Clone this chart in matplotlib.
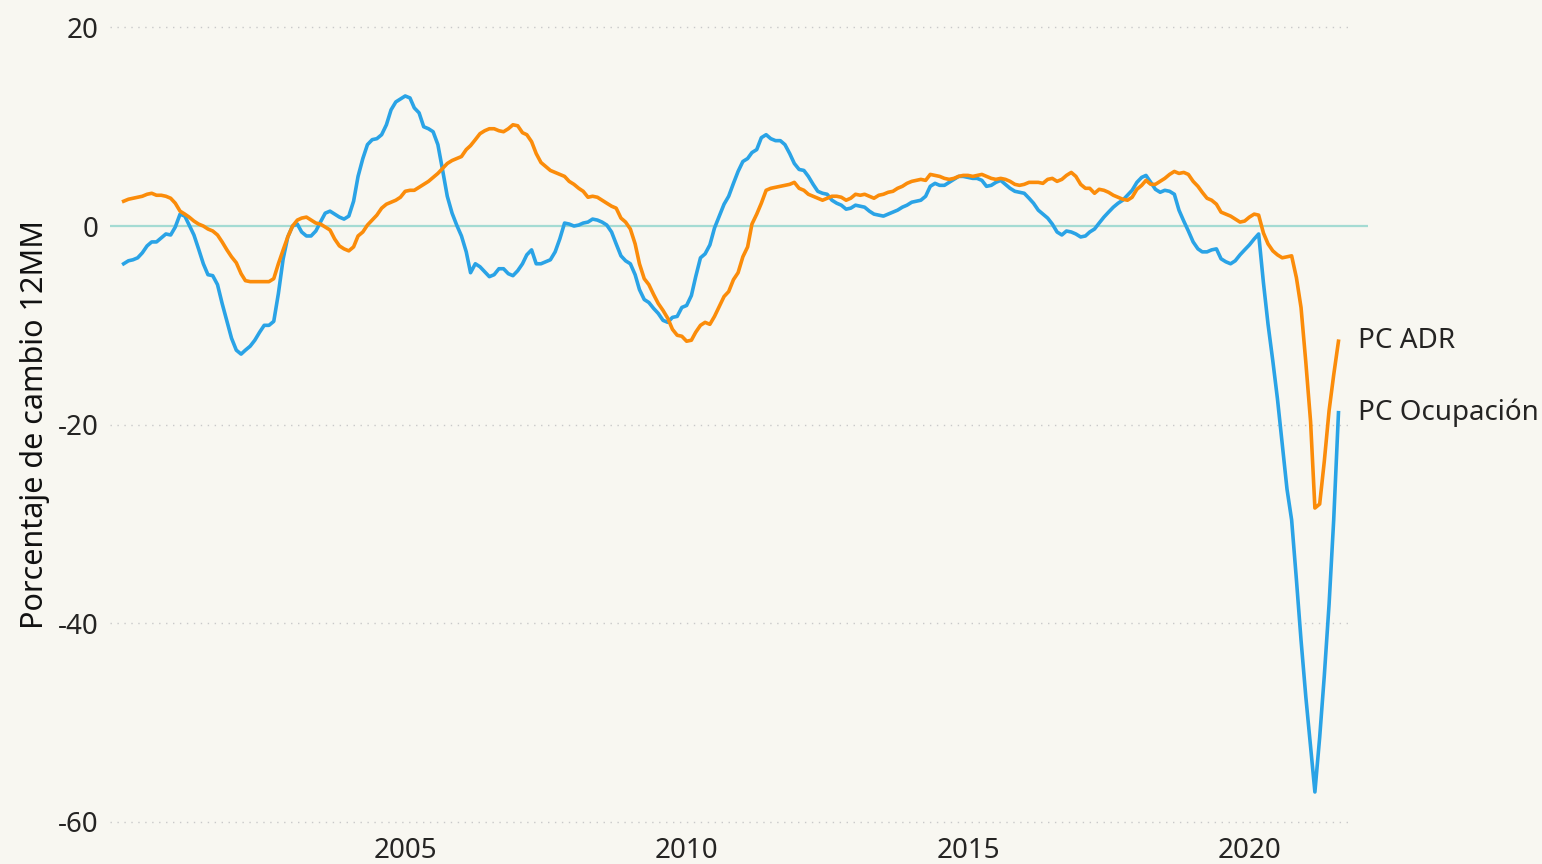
import numpy as np
import pandas as pd
import matplotlib
matplotlib.use("Agg")
import matplotlib.pyplot as plt
import matplotlib.dates as mdates

plt.rcParams['font.family'] = ['Noto Sans', 'DejaVu Sans']
plt.rcParams['axes.unicode_minus'] = False

# monthly series, Jan 2000 .. Aug 2021
start_month = '2000-01-01'

pc_ocupacion = [
    -3.8, -3.5, -3.4, -3.2, -2.7, -2.0, -1.6, -1.6, -1.2, -0.8, -0.9, -0.1,
    1.2, 1.0, 0.1, -0.9, -2.3, -3.8, -4.9, -5.0, -5.9, -7.8, -9.6, -11.3,
    -12.5, -12.9, -12.5, -12.1, -11.5, -10.7, -10.0, -10.0, -9.6, -6.8, -3.3, -1.1,
    0.0, 0.2, -0.6, -1.0, -1.0, -0.5, 0.4, 1.3, 1.5, 1.2, 0.9, 0.7,
    1.0, 2.5, 5.0, 6.8, 8.2, 8.7, 8.8, 9.2, 10.2, 11.7, 12.5, 12.8,
    13.1, 12.9, 11.9, 11.4, 10.0, 9.8, 9.5, 8.2, 5.6, 3.0, 1.3, 0.1,
    -1.0, -2.6, -4.7, -3.8, -4.1, -4.6, -5.1, -4.9, -4.3, -4.3, -4.8, -5.0,
    -4.5, -3.8, -2.9, -2.4, -3.8, -3.8, -3.6, -3.4, -2.6, -1.3, 0.3, 0.2,
    0.0, 0.1, 0.3, 0.4, 0.7, 0.6, 0.4, 0.1, -0.6, -1.8, -3.0, -3.5,
    -3.8, -4.9, -6.4, -7.4, -7.7, -8.3, -8.8, -9.5, -9.7, -9.2, -9.1, -8.2,
    -8.0, -7.0, -5.1, -3.2, -2.8, -1.9, -0.2, 1.0, 2.2, 3.0, 4.3, 5.5,
    6.5, 6.8, 7.4, 7.7, 8.9, 9.2, 8.8, 8.6, 8.6, 8.2, 7.3, 6.3,
    5.7, 5.6, 5.0, 4.2, 3.5, 3.3, 3.2, 2.6, 2.3, 2.1, 1.7, 1.8,
    2.1, 2.0, 1.9, 1.5, 1.2, 1.1, 1.0, 1.2, 1.4, 1.6, 1.9, 2.1,
    2.4, 2.5, 2.6, 3.0, 4.0, 4.3, 4.1, 4.1, 4.4, 4.7, 5.0, 5.0,
    4.9, 4.8, 4.8, 4.6, 4.0, 4.1, 4.4, 4.6, 4.2, 3.8, 3.5, 3.4,
    3.3, 2.8, 2.3, 1.6, 1.2, 0.8, 0.2, -0.6, -0.9, -0.5, -0.6, -0.8,
    -1.1, -1.0, -0.6, -0.3, 0.3, 0.9, 1.4, 1.9, 2.3, 2.6, 3.1, 3.6,
    4.4, 4.9, 5.1, 4.4, 3.7, 3.4, 3.6, 3.5, 3.2, 1.6, 0.5, -0.5,
    -1.6, -2.3, -2.6, -2.6, -2.4, -2.3, -3.3, -3.6, -3.8, -3.5, -2.9, -2.4,
    -1.9, -1.3, -0.8, -5.7, -9.9, -13.6, -17.4, -22.0, -26.5, -29.6, -35.6, -41.7,
    -47.4, -52.5, -57.0, -51.5, -45.3, -38.1, -29.6, -18.8,
]

pc_adr = [
    2.5, 2.7, 2.8, 2.9, 3.0, 3.2, 3.3, 3.1, 3.1, 3.0, 2.8, 2.3,
    1.5, 1.2, 0.9, 0.5, 0.2, 0.0, -0.3, -0.5, -0.9, -1.6, -2.4, -3.1,
    -3.7, -4.8, -5.5, -5.6, -5.6, -5.6, -5.6, -5.6, -5.3, -3.8, -2.4, -1.1,
    0.0, 0.6, 0.8, 0.9, 0.6, 0.3, 0.2, -0.1, -0.4, -1.3, -2.0, -2.3,
    -2.5, -2.1, -1.0, -0.6, 0.1, 0.6, 1.1, 1.8, 2.2, 2.4, 2.6, 2.9,
    3.5, 3.6, 3.6, 3.9, 4.2, 4.5, 4.9, 5.3, 5.8, 6.3, 6.6, 6.8,
    7.0, 7.7, 8.1, 8.7, 9.3, 9.6, 9.8, 9.8, 9.6, 9.5, 9.8, 10.2,
    10.1, 9.4, 9.2, 8.5, 7.3, 6.4, 6.0, 5.6, 5.4, 5.2, 5.0, 4.5,
    4.2, 3.8, 3.5, 2.9, 3.0, 2.9, 2.6, 2.3, 2.0, 1.8, 0.8, 0.4,
    -0.3, -1.8, -3.8, -5.3, -5.9, -6.9, -7.8, -8.5, -9.3, -10.4, -11.0, -11.1,
    -11.6, -11.5, -10.7, -10.0, -9.7, -9.9, -9.1, -8.1, -7.1, -6.6, -5.4, -4.7,
    -3.1, -2.1, 0.2, 1.2, 2.3, 3.6, 3.8, 3.9, 4.0, 4.1, 4.2, 4.4,
    3.8, 3.6, 3.2, 3.0, 2.8, 2.6, 2.8, 3.0, 3.0, 2.9, 2.6, 2.8,
    3.2, 3.1, 3.2, 3.0, 2.8, 3.1, 3.2, 3.4, 3.5, 3.8, 4.0, 4.3,
    4.5, 4.6, 4.7, 4.6, 5.2, 5.1, 5.0, 4.8, 4.7, 4.8, 5.0, 5.1,
    5.1, 5.0, 5.1, 5.2, 5.0, 4.8, 4.7, 4.8, 4.7, 4.5, 4.2, 4.1,
    4.2, 4.4, 4.4, 4.4, 4.3, 4.7, 4.8, 4.5, 4.7, 5.1, 5.4, 5.0,
    4.2, 3.8, 3.8, 3.3, 3.7, 3.6, 3.4, 3.1, 2.9, 2.7, 2.6, 2.9,
    3.7, 4.1, 4.6, 4.2, 4.2, 4.5, 4.8, 5.2, 5.5, 5.3, 5.4, 5.2,
    4.5, 4.0, 3.4, 2.8, 2.6, 2.2, 1.4, 1.2, 1.0, 0.7, 0.4, 0.5,
    0.9, 1.2, 1.1, -0.7, -1.8, -2.5, -2.9, -3.2, -3.1, -3.0, -5.2, -8.2,
    -13.7, -19.7, -28.4, -28.0, -23.7, -18.6, -15.0, -11.6,
]

dates = pd.date_range(start_month, periods=len(pc_ocupacion), freq='MS')

y_ticks = [20, 0, -20, -40, -60]
x_ticks = ['2005', '2010', '2015', '2020']

bg = '#F8F7F1'
blue = '#2AA3E6'
orange = '#FB8C0A'
text_col = '#252423'

fig = plt.figure(figsize=(15.42, 8.64), dpi=100)
fig.patch.set_facecolor(bg)
ax = fig.add_axes([0.0713, 0.0374, 0.8158, 0.9423])
ax.set_facecolor(bg)

ax.set_xlim(pd.Timestamp('1999-10-04'), pd.Timestamp('2022-02-08'))
ax.set_ylim(-61, 21)

# dotted gridlines (stop short of the right edge), teal zero line
for v in y_ticks:
    if v == 0:
        continue
    ax.hlines(v, pd.Timestamp('1999-10-04'), pd.Timestamp('2021-10-13'),
              colors='#c9c9c9', linestyles=(0, (1, 4)), linewidth=1, zorder=1)
ax.axhline(0, color='#a4dbd3', linewidth=1.6, zorder=1)

ax.plot(dates, pc_ocupacion, color=blue, linewidth=2.6, zorder=3)
ax.plot(dates, pc_adr, color=orange, linewidth=2.6, zorder=4)

ax.annotate('PC ADR', xy=(dates[-1], pc_adr[-1]), xytext=(14, 0),
            textcoords='offset points', va='center', ha='left',
            fontsize=20, color=text_col, annotation_clip=False)
ax.annotate('PC Ocupación', xy=(dates[-1], pc_ocupacion[-1]), xytext=(14, 0),
            textcoords='offset points', va='center', ha='left',
            fontsize=20, color=text_col, annotation_clip=False)

ax.set_yticks(y_ticks)
ax.set_yticklabels([str(v) for v in y_ticks])
ax.set_xticks([pd.Timestamp(y + '-01-01') for y in x_ticks])
ax.set_xticklabels(x_ticks)
ax.tick_params(axis='both', length=0, labelsize=20, colors=text_col)
ax.tick_params(axis='y', pad=8)
ax.tick_params(axis='x', pad=4)

ax.set_ylabel('Porcentaje de cambio 12MM', fontsize=22, color='#111111', labelpad=6)

for s in ax.spines.values():
    s.set_visible(False)

fig.savefig('out.png', dpi=100, facecolor=bg)
